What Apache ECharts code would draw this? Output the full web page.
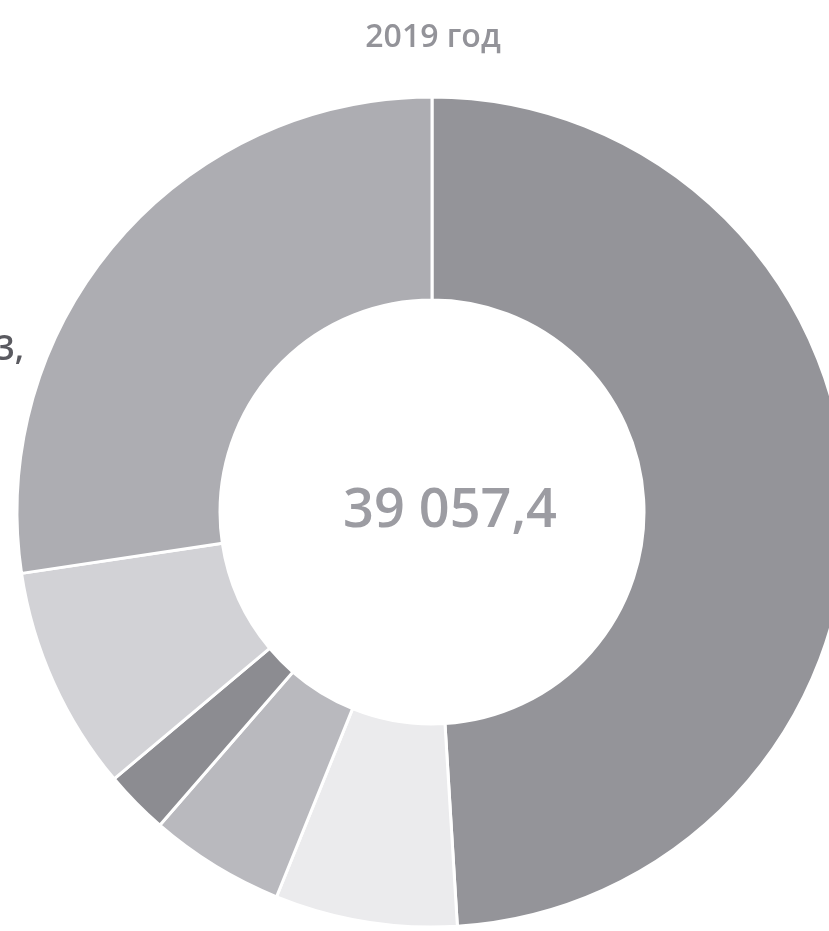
<!DOCTYPE html>
<html>
<head>
<meta charset="utf-8">
<script src="https://cdn.jsdelivr.net/npm/echarts@6/dist/echarts.min.js"></script>
<style>
html,body{margin:0;padding:0;background:#fff;}
#chart{width:829px;height:931px;}
</style>
</head>
<body>
<div id="chart"></div>
<script>
// Data (clockwise from 12 o'clock)
const categories = ['Сегмент 1', 'Сегмент 2', 'Сегмент 3', 'Сегмент 4', 'Сегмент 5', 'Сегмент 6'];
const values = [19148, 2767, 2061, 976, 3418, 10687];
const sliceColors = ['#949499', '#ebebed', '#b9b9be', '#8c8c91', '#d2d2d6', '#adadb2'];
const titleText = '2019 год';
const totalText = '39 057,4';

const chart = echarts.init(document.getElementById('chart'), null, {renderer: 'canvas'});
chart.setOption({
  animation: false,
  backgroundColor: '#ffffff',
  series: [{
    type: 'pie',
    center: [432, 512],
    radius: [212, 415],
    startAngle: 90,
    clockwise: true,
    label: {show: false},
    labelLine: {show: false},
    emphasis: {disabled: true},
    itemStyle: {borderColor: '#ffffff', borderWidth: 3},
    data: categories.map((c, i) => ({name: c, value: values[i], itemStyle: {color: sliceColors[i]}}))
  }],
  graphic: [
    {type: 'text', x: 433, y: 38, style: {text: titleText, font: '600 32px "Open Sans", sans-serif', fill: '#939399', align: 'center', verticalAlign: 'middle'}},
    {type: 'text', x: 450, y: 512, style: {text: totalText, font: '600 54px "Open Sans", sans-serif', fill: '#9c9ca2', align: 'center', verticalAlign: 'middle'}},
    {type: 'text', x: 24, y: 350, style: {text: '3,', font: '600 34px "Open Sans", sans-serif', fill: '#5a5a60', align: 'right', verticalAlign: 'middle'}}
  ]
});
</script>
</body>
</html>
